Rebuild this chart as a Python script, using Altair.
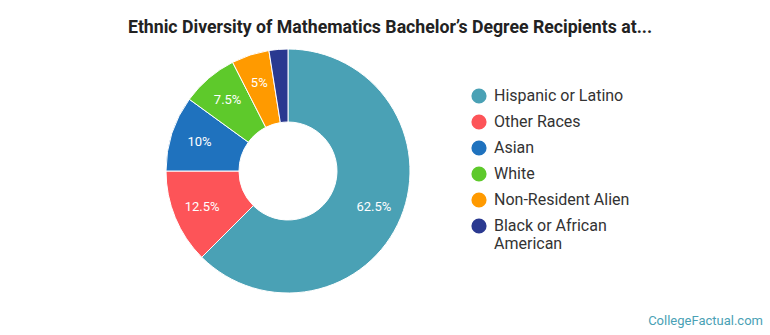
import altair as alt
import pandas as pd

categories = ["Hispanic or Latino", "Other Races", "Asian", "White",
              "Non-Resident Alien", "Black or African American"]
shares = [62.5, 12.5, 10, 7.5, 5, 2.5]
colors = ["#4aa1b5", "#fd5458", "#1f72be", "#5ec92b", "#ff9a00", "#2a3990"]
labels = ["62.5%", "12.5%", "10%", "7.5%", "5%", ""]

df = pd.DataFrame({"cat": categories, "value": shares, "label": labels,
                   "order": list(range(len(categories)))})

FONT = "Roboto"
CX, CY = 288, 171

color = alt.Color(
    "cat:N",
    scale=alt.Scale(domain=categories, range=colors),
    legend=alt.Legend(
        title=None, orient="none", legendX=471, legendY=88,
        symbolType="circle", symbolSize=230, symbolStrokeWidth=0,
        labelFont=FONT, labelFontSize=16, labelColor="#333333",
        labelOffset=7, rowPadding=10, labelLimit=300,
        labelExpr="datum.label == 'Black or African American' ? ['Black or African', 'American'] : datum.label",
    ),
)

base = alt.Chart(df).encode(
    theta=alt.Theta("value:Q", stack=True),
    order=alt.Order("order:Q"),
)

arcs = base.mark_arc(radius=122, radius2=49, stroke="white", strokeWidth=1).encode(
    color=color, x=alt.value(CX), y=alt.value(CY)
)

texts = base.mark_text(radius=93, font=FONT, fontSize=13, color="white").encode(
    text="label:N", x=alt.value(CX), y=alt.value(CY)
)

mark_df = pd.DataFrame({"t": ["CollegeFactual.com"]})
watermark = alt.Chart(mark_df).mark_text(
    font=FONT, fontSize=13, color="#4aa1b5", align="right", baseline="middle"
).encode(text="t:N", x=alt.value(763), y=alt.value(321))

chart = (arcs + texts + watermark).properties(
    width=770, height=335,
    title=alt.TitleParams(
        "Ethnic Diversity of Mathematics Bachelor\u2019s Degree Recipients at...",
        font=FONT, fontSize=17.7, fontWeight="bold", color="#222222",
        anchor="middle", offset=-37, dx=5,
    ),
    autosize=alt.AutoSizeParams(type="none"),
    padding=0,
).configure_view(stroke=None)

chart.save("out.html", embed_options={"renderer": "svg", "actions": False})
